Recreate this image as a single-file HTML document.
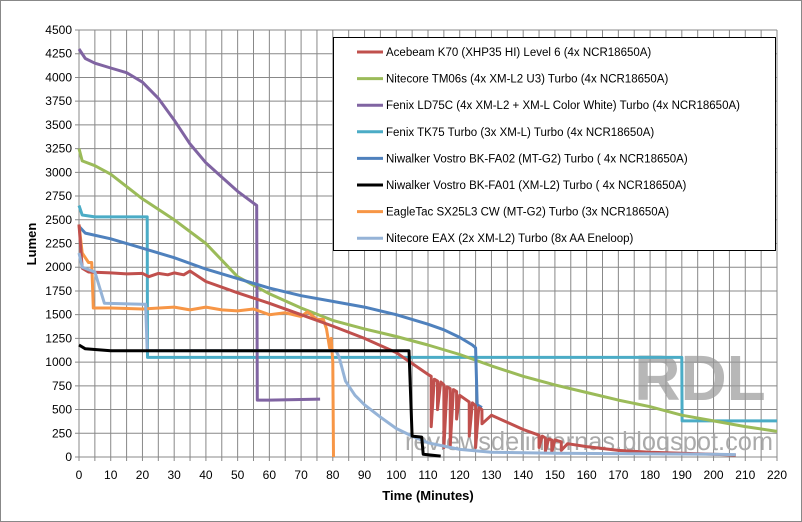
<!DOCTYPE html>
<html><head><meta charset="utf-8"><style>
body{margin:0;background:#fff}
svg{display:block;font-family:"Liberation Sans","DejaVu Sans",sans-serif}
</style></head><body>
<svg id="chart" width="802" height="522">
<rect x="0.5" y="0.5" width="801" height="521" fill="#fff" stroke="#888"/>
<g id="grid"></g>
<g id="ticks"></g>
<text x="405" y="450" font-size="26" fill="#aaa" textLength="368" lengthAdjust="spacingAndGlyphs">reviewsdelinternas.blogspot.com</text>
<text x="700" y="400" font-size="64" font-weight="bold" fill="#999" opacity="0.7" text-anchor="middle">RDL</text>
<g id="series"></g>
<text x="36" y="244" font-size="13" font-weight="bold" text-anchor="middle" transform="rotate(-90 36 244)">Lumen</text>
<text x="428" y="500" font-size="13" font-weight="bold" text-anchor="middle">Time (Minutes)</text>
<g id="legend"></g>
</svg>
<script>
const xTicks=[0,10,20,30,40,50,60,70,80,90,100,110,120,130,140,150,160,170,180,190,200,210,220];
const yTicks=[0,250,500,750,1000,1250,1500,1750,2000,2250,2500,2750,3000,3250,3500,3750,4000,4250,4500];
const seriesNames=["Acebeam K70 (XHP35 HI) Level 6 (4x NCR18650A)","Nitecore TM06s (4x XM-L2 U3) Turbo (4x NCR18650A)","Fenix LD75C (4x XM-L2 + XM-L Color White) Turbo (4x NCR18650A)","Fenix TK75 Turbo (3x XM-L) Turbo (4x NCR18650A)","Niwalker Vostro BK-FA02 (MT-G2) Turbo ( 4x NCR18650A)","Niwalker Vostro BK-FA01 (XM-L2) Turbo ( 4x NCR18650A)","EagleTac SX25L3 CW (MT-G2) Turbo (3x NCR18650A)","Nitecore EAX (2x XM-L2) Turbo (8x AA Eneloop)"];
const seriesColors=["#C0504D","#9BBB59","#8064A2","#4BACC6","#4F81BD","#000000","#F79646","#95B3D7"];
const acebeamT=[0,1,3,10,15,20,22,25,28,30,33,35,40,50,60,70,80,90,100,110,111,111.01,112,113,113.01,114,115,115.01,116,117,117.01,118,119,119.01,120,123,123.01,124,125,125.01,126,127,127.01,130,140,145,145.01,146,147,147.01,148,149,149.01,150,152,152.01,154,160,170,180,190,200,207];
const acebeamL=[2450,1990,1950,1940,1930,1935,1900,1935,1920,1940,1920,1960,1850,1730,1620,1500,1380,1250,1100,870,850,320,820,800,500,790,760,100,740,720,110,710,690,400,650,580,220,570,540,100,520,500,350,440,290,230,100,220,200,60,190,180,50,180,160,70,140,110,70,50,40,30,20];
const tmT=[0,1,5,10,15,20,30,40,50,60,70,80,90,100,110,120,130,140,150,160,170,180,190,200,210,220];
const tmL=[3250,3120,3070,2980,2850,2720,2500,2250,1900,1720,1570,1440,1350,1270,1180,1080,960,850,760,680,600,530,440,380,320,270];
const ld75T=[0,2,5,10,15,20,25,30,35,40,45,50,56,56.2,60,76];
const ld75L=[4300,4200,4150,4100,4050,3950,3780,3550,3300,3100,2950,2800,2650,600,600,610];
const tk75T=[0,1,5,21.5,21.6,190,190.1,220];
const tk75L=[2650,2550,2530,2530,1050,1050,380,380];
const fa02T=[0,2,10,20,30,40,50,60,70,80,90,100,110,115,120,124,125,125.5,127];
const fa02L=[2430,2360,2300,2200,2100,1980,1880,1780,1700,1640,1580,1500,1400,1340,1260,1180,1150,550,520];
const fa01T=[0,2,10,20,50,104,105,108,108.5,114];
const fa01L=[1180,1140,1120,1120,1120,1120,220,210,30,10];
const eagleT=[0,1,3,4,4.5,10,20,30,35,40,45,50,55,60,65,70,72,75,77,78,79,79.5,80,80.2];
const eagleL=[2450,2150,2050,2050,1570,1570,1560,1580,1550,1580,1550,1540,1560,1500,1520,1480,1530,1450,1450,1350,1150,1250,1000,0];
const eaxT=[0,1,5,8,20,21,21.5,80,81,82,84,87,90,95,100,105,110,120,130,150,200,207];
const eaxL=[2150,2000,1950,1620,1610,1610,1120,1120,1120,1050,800,650,550,420,300,220,150,80,50,40,30,25];
const X0=79,X1=777,Y0=457,Y1=30;
const xs=v=>X0+(v/220)*(X1-X0), ys=v=>Y0-(v/4500)*(Y0-Y1);
const NS="http://www.w3.org/2000/svg";
function mk(t,a,p){const e=document.createElementNS(NS,t);for(const k in a)e.setAttribute(k,a[k]);p.appendChild(e);return e;}
const grid=document.getElementById('grid'),ticks=document.getElementById('ticks');
for(let m=0;m<=220;m+=5){const l=mk('line',{x1:xs(m),x2:xs(m),y1:Y1,y2:Y0+4,stroke:'#888','stroke-width':1},grid);

}
for(let v=0;v<=4500;v+=250){const l=mk('line',{x1:X0-4,x2:X1,y1:ys(v),y2:ys(v),stroke:'#888','stroke-width':1},grid);

}
xTicks.forEach(v=>{const t=mk('text',{x:xs(v),y:Y0+22,'font-size':12,'text-anchor':'middle'},ticks);t.textContent=v;

});
yTicks.forEach(v=>{const t=mk('text',{x:X0-7,y:ys(v)+4,'font-size':12,'text-anchor':'end'},ticks);t.textContent=v;

});
const data=[[acebeamT,acebeamL],[tmT,tmL],[ld75T,ld75L],[tk75T,tk75L],[fa02T,fa02L],[fa01T,fa01L],[eagleT,eagleL],[eaxT,eaxL]];
const sg=document.getElementById('series');
const slugs=['acebeam-k70','nitecore-tm06s','fenix-ld75c','fenix-tk75','niwalker-fa02','niwalker-fa01','eagletac-sx25l3','nitecore-eax'];
[3,1,2,4,6,0,7,5].forEach(i=>{const [T,L]=data[i];const d=T.map((t,j)=>(j?'L':'M')+xs(t).toFixed(1)+','+ys(L[j]).toFixed(1)).join('');
const p=mk('path',{d:d,fill:'none',stroke:seriesColors[i],'stroke-width':3,'stroke-linejoin':'round'},sg);

});
const lg=document.getElementById('legend');
const box=mk('rect',{x:333.5,y:37.5,width:442,height:213,fill:'#fff',stroke:'#000','stroke-width':1},lg);


seriesNames.forEach((n,i)=>{const y=52+i*26.6;
const l=mk('line',{x1:357,x2:383,y1:y,y2:y,stroke:seriesColors[i],'stroke-width':3},lg);


const t=mk('text',{x:386,y:y+4,'font-size':11.5},lg);t.textContent=n;

});
</script>
</body></html>
